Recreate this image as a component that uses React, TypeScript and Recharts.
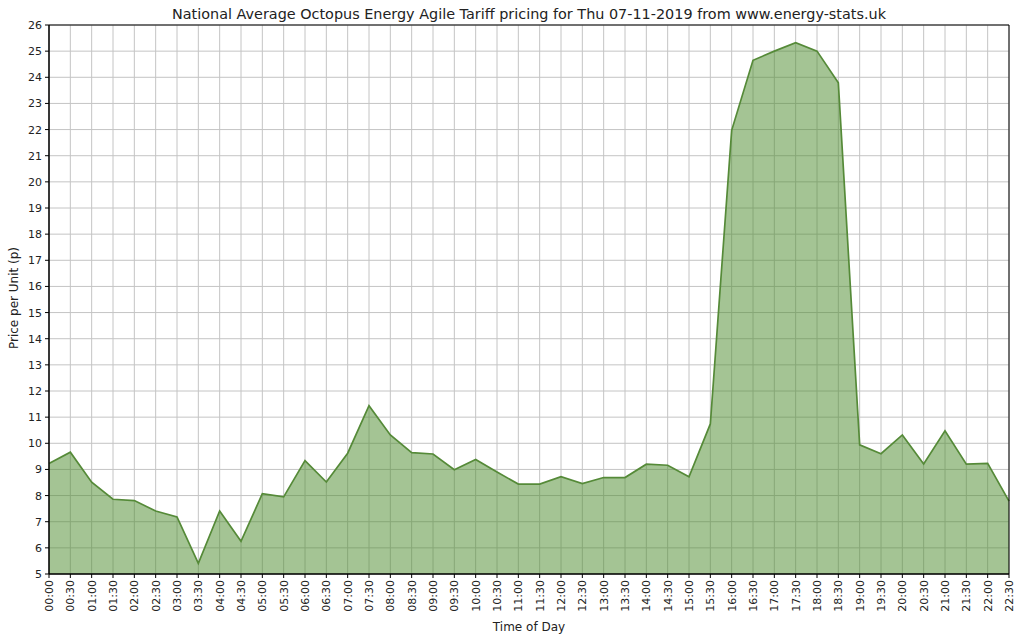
import React from "react";
import {
  AreaChart,
  Area,
  XAxis,
  YAxis,
  CartesianGrid,
  ReferenceArea,
} from "recharts";

const times: string[] = [
  "00:00", "00:30", "01:00", "01:30", "02:00", "02:30", "03:00", "03:30",
  "04:00", "04:30", "05:00", "05:30", "06:00", "06:30", "07:00", "07:30",
  "08:00", "08:30", "09:00", "09:30", "10:00", "10:30", "11:00", "11:30",
  "12:00", "12:30", "13:00", "13:30", "14:00", "14:30", "15:00", "15:30",
  "16:00", "16:30", "17:00", "17:30", "18:00", "18:30", "19:00", "19:30",
  "20:00", "20:30", "21:00", "21:30", "22:00", "22:30",
];

const prices: number[] = [
  9.23, 9.66, 8.51, 7.86, 7.81, 7.41, 7.18, 5.41,
  7.41, 6.25, 8.07, 7.95, 9.34, 8.52, 9.62, 11.44,
  10.32, 9.64, 9.59, 8.99, 9.38, 8.9, 8.44, 8.44,
  8.72, 8.46, 8.69, 8.69, 9.2, 9.16, 8.72, 10.74,
  21.97, 24.65, 25.0, 25.32, 25.0, 23.79, 9.94, 9.6,
  10.32, 9.21, 10.48, 9.2, 9.23, 7.79,
];

const yTicks: number[] = [
  5, 6, 7, 8, 9, 10, 11, 12, 13, 14, 15, 16, 17, 18, 19, 20, 21, 22, 23, 24, 25, 26,
];

const titleText =
  "National Average Octopus Energy Agile Tariff pricing for Thu 07-11-2019 from www.energy-stats.uk";
const xLabel = "Time of Day";
const yLabel = "Price per Unit (p)";

const data = times.map((t, i) => ({ time: t, price: prices[i] }));

const FONT = "'DejaVu Sans', sans-serif";

const XTick = (props: any) => {
  const { x, y, payload } = props;
  return (
    <g transform={`translate(${x},${y})`}>
      <text
        x={0}
        y={0}
        dy="0.36em"
        textAnchor="end"
        transform="rotate(-90)"
        fontSize={11}
        fontFamily={FONT}
        fill="#222"
      >
        {payload.value}
      </text>
    </g>
  );
};

const YTick = (props: any) => {
  const { x, y, payload } = props;
  return (
    <text
      x={x}
      y={y}
      dy="0.36em"
      textAnchor="end"
      fontSize={11}
      fontFamily={FONT}
      fill="#222"
    >
      {payload.value}
    </text>
  );
};

export default function App() {
  return (
    <div
      style={{
        position: "absolute",
        left: 0,
        top: 0,
        width: 1024,
        height: 642,
        background: "#fff",
      }}
    >
      <AreaChart
        width={1024}
        height={642}
        data={data}
        margin={{ top: 25, right: 15, bottom: 0, left: 0 }}
      >
        <CartesianGrid stroke="#c4c4c4" strokeWidth={1} />
        <XAxis
          dataKey="time"
          interval={0}
          height={68}
          tickSize={4}
          tickMargin={2}
          tick={<XTick />}
          axisLine={{ stroke: "#000" }}
          tickLine={{ stroke: "#000" }}
        />
        <YAxis
          domain={[5, 26]}
          ticks={yTicks}
          interval={0}
          width={49}
          tickSize={4}
          tickMargin={3}
          tick={<YTick />}
          axisLine={{ stroke: "#000" }}
          tickLine={{ stroke: "#000" }}
          allowDataOverflow
        />
        <Area
          type="linear"
          dataKey="price"
          stroke="#558a38"
          strokeWidth={1.7}
          fill="#4a8a2a"
          fillOpacity={0.5}
          baseValue={5}
          isAnimationActive={false}
          dot={false}
          activeDot={false}
        />
        <ReferenceArea
          x1={times[0]}
          x2={times[times.length - 1]}
          y1={yTicks[0]}
          y2={yTicks[yTicks.length - 1]}
          fill="none"
          fillOpacity={0}
          stroke="#000"
          strokeWidth={1}
          ifOverflow="visible"
        />
      </AreaChart>
      <svg
        width={1024}
        height={642}
        style={{ position: "absolute", left: 0, top: 0, pointerEvents: "none" }}
      >
        <text
          x={529}
          y={19}
          textAnchor="middle"
          fontSize={14.4}
          fontFamily={FONT}
          fill="#222"
        >
          {titleText}
        </text>
        <text
          x={529}
          y={631}
          textAnchor="middle"
          fontSize={12}
          fontFamily={FONT}
          fill="#222"
        >
          {xLabel}
        </text>
        <text
          x={0}
          y={0}
          transform="translate(18,298) rotate(-90)"
          textAnchor="middle"
          fontSize={12}
          fontFamily={FONT}
          fill="#222"
        >
          {yLabel}
        </text>
      </svg>
    </div>
  );
}
